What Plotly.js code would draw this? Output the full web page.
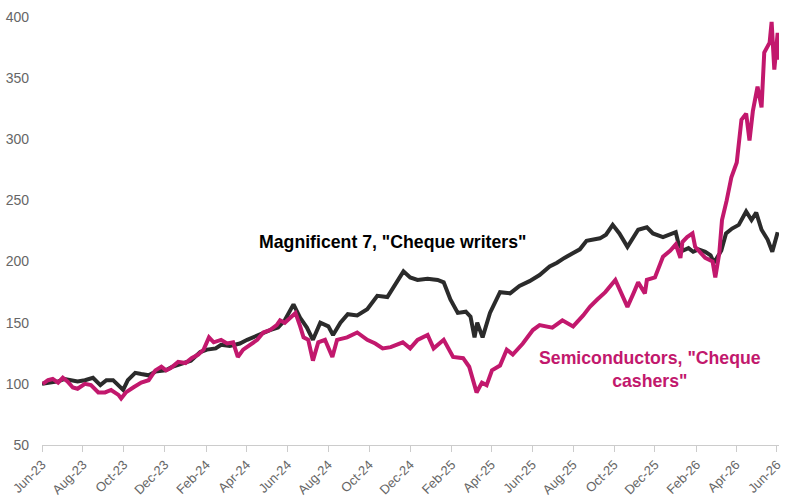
<!DOCTYPE html>
<html>
<head>
<meta charset="utf-8">
<script src="https://cdn.plot.ly/plotly-3.0.1.min.js"></script>
<style>html,body{margin:0;padding:0;background:#fff;}#chart{width:799px;height:501px;}</style>
</head>
<body>
<div id="chart"></div>
<script>
const mag7Dates = ["2023-06-01","2023-06-13","2023-06-25","2023-07-05","2023-07-14","2023-07-24","2023-08-04","2023-08-16","2023-08-27","2023-09-05","2023-09-15","2023-09-26","2023-09-30","2023-10-07","2023-10-18","2023-10-27","2023-11-07","2023-11-17","2023-12-02","2023-12-12","2023-12-24","2024-01-09","2024-01-23","2024-02-02","2024-02-15","2024-02-23","2024-03-07","2024-03-22","2024-04-02","2024-04-14","2024-04-25","2024-05-06","2024-05-18","2024-05-28","2024-06-10","2024-06-20","2024-06-30","2024-07-09","2024-07-20","2024-08-01","2024-08-08","2024-08-19","2024-08-30","2024-09-13","2024-09-28","2024-10-13","2024-10-28","2024-11-12","2024-11-21","2024-12-01","2024-12-12","2024-12-27","2025-01-11","2025-01-20","2025-01-30","2025-02-10","2025-02-22","2025-03-01","2025-03-07","2025-03-11","2025-03-19","2025-03-30","2025-04-14","2025-04-29","2025-05-13","2025-05-28","2025-06-12","2025-06-27","2025-07-08","2025-07-19","2025-08-01","2025-08-11","2025-08-21","2025-09-10","2025-09-19","2025-09-29","2025-10-09","2025-10-21","2025-11-06","2025-11-19","2025-11-28","2025-12-13","2026-01-01","2026-01-05","2026-01-12","2026-01-20","2026-01-27","2026-02-04","2026-02-14","2026-02-22","2026-02-27","2026-03-04","2026-03-10","2026-03-17","2026-03-26","2026-04-05","2026-04-16","2026-04-24","2026-05-01","2026-05-09","2026-05-18","2026-05-25","2026-06-02"];
const mag7Values = [100,101,102,104,103,102,103,105,99,103,103,97,95,103,109,108,107,110,111,114,116,119,126,128,129,132,131,133,136,139,142,144,146,152,165,154,146,136,150,147,140,150,157,156,161,172,171,185,192,187,185,186,185,183,169,158,159,155,138,150,138,158,175,174,180,184,189,196,199,203,207,210,217,219,222,230,223,212,226,228,223,220,224,215,209,211,208,210,208,205,199,203,209,223,227,230,241,234,240,226,218,208,224];

const semiDates = ["2023-06-02","2023-06-10","2023-06-17","2023-06-25","2023-07-02","2023-07-09","2023-07-17","2023-07-24","2023-08-04","2023-08-13","2023-08-24","2023-09-03","2023-09-12","2023-09-23","2023-09-27","2023-10-04","2023-10-15","2023-10-27","2023-11-07","2023-11-17","2023-11-26","2023-12-03","2023-12-10","2023-12-21","2024-01-01","2024-01-10","2024-01-20","2024-01-28","2024-02-05","2024-02-12","2024-02-23","2024-03-03","2024-03-12","2024-03-19","2024-03-27","2024-04-07","2024-04-17","2024-04-26","2024-05-06","2024-05-16","2024-05-21","2024-05-28","2024-06-05","2024-06-13","2024-06-20","2024-06-25","2024-07-02","2024-07-09","2024-07-17","2024-07-27","2024-08-07","2024-08-14","2024-08-29","2024-09-13","2024-09-28","2024-10-10","2024-10-21","2024-11-02","2024-11-20","2024-12-01","2024-12-12","2024-12-27","2025-01-05","2025-01-20","2025-02-03","2025-02-18","2025-02-27","2025-03-04","2025-03-10","2025-03-18","2025-03-25","2025-04-02","2025-04-14","2025-04-24","2025-05-03","2025-05-18","2025-06-02","2025-06-12","2025-07-01","2025-07-16","2025-08-01","2025-08-16","2025-08-26","2025-09-06","2025-09-18","2025-10-03","2025-10-09","2025-10-21","2025-10-30","2025-11-06","2025-11-16","2025-11-19","2025-12-01","2025-12-13","2025-12-24","2026-01-01","2026-01-08","2026-01-11","2026-01-18","2026-01-26","2026-01-30","2026-02-07","2026-02-14","2026-02-25","2026-03-01","2026-03-07","2026-03-11","2026-03-18","2026-03-25","2026-04-02","2026-04-09","2026-04-16","2026-04-21","2026-04-26","2026-05-03","2026-05-09","2026-05-13","2026-05-21","2026-05-24","2026-05-28","2026-06-02","2026-06-03"];
const semiValues = [100,103,104,101,105,102,97,96,100,99,93,93,95,91,88,93,97,101,103,111,114,111,113,118,117,121,124,128,138,134,136,133,134,122,128,132,136,142,144,148,152,150,154,158,147,138,136,119,134,136,122,136,138,142,136,133,129,130,134,129,136,140,129,136,122,121,114,103,93,101,99,111,115,128,124,133,144,148,146,152,147,156,163,169,175,185,178,163,174,183,174,185,187,204,209,214,203,216,220,223,212,207,203,200,187,207,234,250,269,281,316,321,299,323,343,326,371,379,396,357,387,365];

const yTicks = [50,100,150,200,250,300,350,400];
const labelMag7 = 'Magnificent 7, "Cheque writers"';
const labelSemi = 'Semiconductors, "Cheque<br>cashers"';

const traces = [
  {x: mag7Dates, y: mag7Values, type: 'scatter', mode: 'lines', name: 'Magnificent 7',
   line: {color: '#2b2b2b', width: 4}},
  {x: semiDates, y: semiValues, type: 'scatter', mode: 'lines', name: 'Semiconductors',
   line: {color: '#c2186d', width: 4}}
];

const layout = {
  width: 799, height: 501,
  margin: {l: 42, r: 20, t: 17, b: 56},
  paper_bgcolor: '#ffffff', plot_bgcolor: '#ffffff',
  showlegend: false,
  font: {family: 'Liberation Sans, Arial, sans-serif', color: '#666666', size: 14},
  xaxis: {
    type: 'date',
    range: ['2023-06-01', '2026-06-04'],
    tick0: '2023-06-01', dtick: 'M2', tickformat: '%b-%y',
    tickangle: -45,
    showgrid: false, zeroline: false,
    showline: true, linecolor: '#cccccc', linewidth: 1,
    ticks: 'outside', ticklen: 6, tickcolor: '#cccccc',
    tickfont: {size: 13, color: '#666666'}
  },
  yaxis: {
    range: [50, 400],
    tickvals: yTicks,
    showgrid: false, zeroline: false, showline: false,
    ticks: '', ticklabelstandoff: 12,
    tickfont: {size: 14, color: '#666666'}
  },
  annotations: [
    {x: '2024-11-05', y: 216, xref: 'x', yref: 'y', text: labelMag7, showarrow: false,
     font: {size: 17.7, color: '#000000', family: 'Liberation Sans, Arial, sans-serif', weight: 'bold'}},
    {x: '2025-11-24', y: 112, xref: 'x', yref: 'y', text: labelSemi, showarrow: false,
     font: {size: 17.7, color: '#c2186d', family: 'Liberation Sans, Arial, sans-serif', weight: 'bold'}}
  ]
};

Plotly.newPlot('chart', traces, layout, {displayModeBar: false, staticPlot: true});
</script>
</body>
</html>
